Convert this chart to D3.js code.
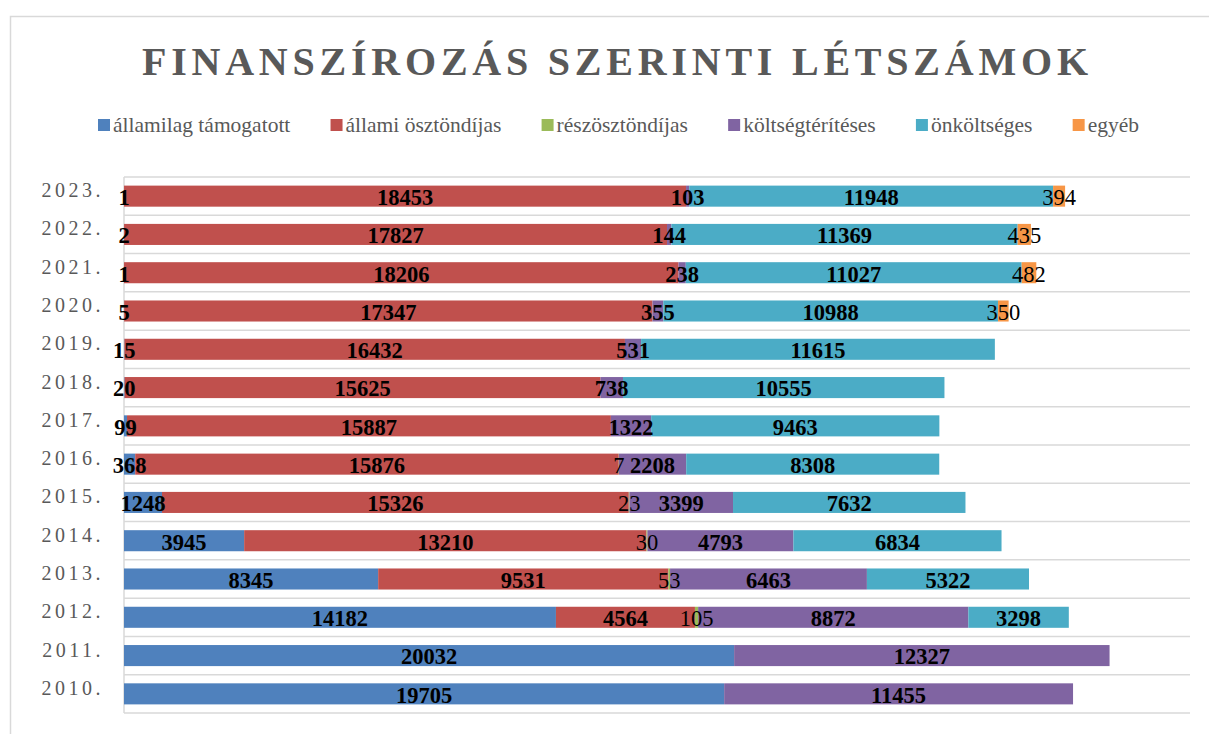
<!DOCTYPE html>
<html>
<head>
<meta charset="utf-8">
<script src="https://cdn.jsdelivr.net/npm/d3@7"></script>
<style>
  body { margin: 0; background: #fff; }
  svg { display: block; }
  text { font-family: "Liberation Serif", "DejaVu Serif", serif; }
</style>
</head>
<body>
<svg id="chart" width="1209" height="734"></svg>
<script>
const years = ["2023.", "2022.", "2021.", "2020.", "2019.", "2018.", "2017.",
  "2016.", "2015.", "2014.", "2013.", "2012.", "2011.", "2010."];

const seriesNames = ["államilag támogatott", "állami ösztöndíjas", "részösztöndíjas",
  "költségtérítéses", "önköltséges", "egyéb"];

const allamilag = [1, 2, 1, 5, 15, 20, 99, 368, 1248, 3945, 8345, 14182, 20032, 19705];
const allamiOszt = [18453, 17827, 18206, 17347, 16432, 15625, 15887, 15876, 15326, 13210, 9531, 4564, 0, 0];
const reszOszt = [0, 0, 0, 0, 0, 0, 0, 7, 23, 30, 53, 105, 0, 0];
const koltsegt = [103, 144, 238, 355, 531, 738, 1322, 2208, 3399, 4793, 6463, 8872, 12327, 11455];
const onkoltseges = [11948, 11369, 11027, 10988, 11615, 10555, 9463, 8308, 7632, 6834, 5322, 3298, 0, 0];
const egyeb = [394, 435, 482, 350, 0, 0, 0, 0, 0, 0, 0, 0, 0, 0];

const colors = ["#4F81BD", "#C0504D", "#9BBB59", "#8064A2", "#4BACC6", "#F79646"];
const labelWeights = ["bold", "bold", "normal", "bold", "bold", "normal"];

const allSeries = [allamilag, allamiOszt, reszOszt, koltsegt, onkoltseges, egyeb];

const rows = years.map((y, i) => {
  const row = { year: y };
  seriesNames.forEach((s, k) => { row[s] = allSeries[k][i]; });
  return row;
});

const stacked = d3.stack().keys(seriesNames)(rows);

const svg = d3.select("#chart");
const grey = "#595959";

// outer frame
svg.append("rect")
  .attr("x", 10.5).attr("y", 16.5)
  .attr("width", 1220).attr("height", 740)
  .attr("fill", "none")
  .attr("stroke", "#d9d9d9")
  .attr("stroke-width", 1.5);

const x = d3.scaleLinear().domain([0, 35000]).range([124, 1190]);
const y = d3.scaleBand().domain(years).range([177, 713])
  .paddingInner(0.45).paddingOuter(0.225);

// title
svg.append("text")
  .attr("x", 615).attr("y", 75)
  .attr("text-anchor", "middle")
  .attr("font-weight", "bold")
  .attr("font-size", 40)
  .attr("fill", grey)
  .attr("textLength", 946)
  .attr("lengthAdjust", "spacing")
  .text("FINANSZÍROZÁS SZERINTI LÉTSZÁMOK");

// legend: spread items over the same width as the original
const legend = svg.append("g").attr("transform", "translate(98,132)");
const items = legend.selectAll("g")
  .data(seriesNames)
  .join("g");
items.append("rect")
  .attr("x", 0).attr("y", -13).attr("width", 12).attr("height", 12)
  .attr("fill", (d, k) => colors[k]);
items.append("text")
  .attr("x", 15).attr("y", 0)
  .attr("font-size", 21.5)
  .attr("fill", grey)
  .text(d => d);
const widths = items.nodes().map(n => 15 + n.querySelector("text").getComputedTextLength());
const gap = (1041 - d3.sum(widths)) / (widths.length - 1);
let lx = 0;
items.attr("transform", (d, k) => {
  const t = `translate(${lx},0)`;
  lx += widths[k] + gap;
  return t;
});

// horizontal separators
const step = y.step();
svg.append("g").selectAll("line")
  .data(d3.range(years.length + 1))
  .join("line")
  .attr("x1", 124).attr("x2", 1190)
  .attr("y1", i => 177 + i * step).attr("y2", i => 177 + i * step)
  .attr("stroke", "#d9d9d9").attr("stroke-width", 1.5);

svg.append("line")
  .attr("x1", 124).attr("x2", 124).attr("y1", 177).attr("y2", 713)
  .attr("stroke", "#d9d9d9").attr("stroke-width", 1.5);

// category labels
svg.append("g").selectAll("text")
  .data(years)
  .join("text")
  .attr("x", 104)
  .attr("y", d => y(d) + y.bandwidth() / 2 - 6)
  .attr("dy", "0.35em")
  .attr("text-anchor", "end")
  .attr("font-size", 20)
  .attr("letter-spacing", 3.5)
  .attr("fill", grey)
  .text(d => d);

// bars
const layers = svg.append("g").selectAll("g")
  .data(stacked)
  .join("g")
  .attr("fill", (d, k) => colors[k]);

layers.selectAll("rect")
  .data(d => d.filter(p => p[1] - p[0] > 0))
  .join("rect")
  .attr("x", d => x(d[0]))
  .attr("y", d => y(d.data.year))
  .attr("width", d => x(d[1]) - x(d[0]))
  .attr("height", y.bandwidth());

// data labels
const labels = svg.append("g");
stacked.forEach((layer, k) => {
  labels.selectAll(null)
    .data(layer.filter(p => p[1] - p[0] > 0))
    .join("text")
    .attr("x", d => (x(d[0]) + x(d[1])) / 2)
    .attr("y", d => y(d.data.year) + y.bandwidth() / 2 + 1)
    .attr("dy", "0.35em")
    .attr("text-anchor", "middle")
    .attr("font-size", 22.5)
    .attr("font-weight", labelWeights[k])
    .attr("fill", "#000")
    .text(d => d[1] - d[0]);
});
</script>
</body>
</html>
